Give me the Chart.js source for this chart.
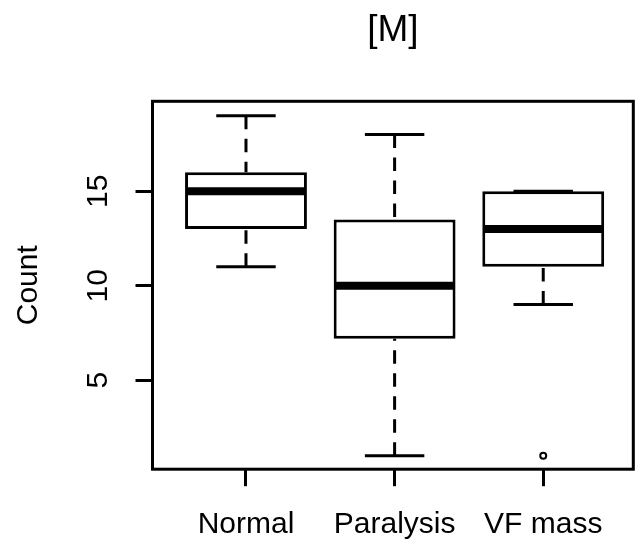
<!DOCTYPE html>
<html>
<head>
<meta charset="utf-8">
<script src="https://cdn.jsdelivr.net/npm/chart.js@4/dist/chart.umd.min.js"></script>
<style>
  html, body { margin: 0; padding: 0; background: #ffffff; }
  #wrap { width: 635px; height: 543px; }
</style>
</head>
<body>
<div id="wrap"><canvas id="c" width="635" height="543"></canvas></div>
<script>
// ---- data ----
const categories = ['Normal', 'Paralysis', 'VF mass'];
const whiskerLow  = [11, 1, 9];
const boxLow      = [13, 7.2, 11];
const medians     = [15, 10, 13];
const boxHigh     = [16, 13.5, 15];
const whiskerHigh = [19, 18, 15];
const outlierGroups = [3];
const outlierValues = [1];
const yTicks = [5, 10, 15];
const titleText = '[M]';
const yTitle = 'Count';

const FONT = "'Liberation Sans', Arial, sans-serif";
const BOX_HALF = 0.4;     // R boxwex 0.8
const CAP_HALF = 0.2;     // staplewex 0.5

const xs = categories.map((_, i) => i + 1);

const boxData = xs.map((x, i) => ({ x: x, y: [boxLow[i], boxHigh[i]] }));
const medianData = xs.map((x, i) => ({ x: x, y: medians[i] }));
const capData = [];
const whiskerData = [];
xs.forEach((x, i) => {
  capData.push({ x: x, y: whiskerHigh[i] });
  capData.push({ x: x, y: whiskerLow[i] });
  whiskerData.push({ x: x, y: whiskerHigh[i] }, { x: x, y: boxHigh[i] }, { x: x, y: null });
  whiskerData.push({ x: x, y: whiskerLow[i] }, { x: x, y: boxLow[i] }, { x: x, y: null });
});
const outlierData = outlierGroups.map((g, i) => ({ x: g, y: outlierValues[i] }));

function unitPx(chart, u) {
  const s = chart.scales.x;
  return Math.abs(s.getPixelForValue(1 + u) - s.getPixelForValue(1));
}

const framePlugin = {
  id: 'frame',
  afterDatasetsDraw(chart) {
    const a = chart.chartArea, ctx = chart.ctx;
    ctx.save();
    ctx.strokeStyle = '#000';
    ctx.lineWidth = 3;
    ctx.strokeRect(a.left, a.top, a.right - a.left, a.bottom - a.top);
    ctx.restore();
  }
};

const yLabelPlugin = {
  id: 'yLabels',
  afterDraw(chart) {
    const s = chart.scales.y, ctx = chart.ctx;
    ctx.save();
    ctx.fillStyle = '#000';
    ctx.font = '30px ' + FONT;
    ctx.textAlign = 'center';
    ctx.textBaseline = 'middle';
    s.ticks.forEach(t => {
      const py = s.getPixelForValue(t.value);
      ctx.save();
      ctx.translate(s.right - 53.5, py);
      ctx.rotate(-Math.PI / 2);
      ctx.fillText(String(t.value), 0, 0);
      ctx.restore();
    });
    ctx.restore();
  }
};

new Chart(document.getElementById('c'), {
  type: 'bar',
  data: {
    datasets: [
      { type: 'line', data: medianData, showLine: false, pointStyle: 'line',
        radius: ctx => unitPx(ctx.chart, BOX_HALF), borderColor: '#000', borderWidth: 8, order: 0 },
      { type: 'line', data: capData, showLine: false, pointStyle: 'line',
        radius: ctx => unitPx(ctx.chart, CAP_HALF), borderColor: '#000', borderWidth: 3, order: 1 },
      { type: 'line', data: outlierData, showLine: false, pointStyle: 'circle', radius: 3,
        borderColor: '#000', backgroundColor: '#fff', borderWidth: 2, order: 1 },
      { type: 'bar', data: boxData, backgroundColor: '#fff', borderColor: '#000', borderWidth: 3,
        borderSkipped: false, barPercentage: 0.82, categoryPercentage: 1, order: 2 },
      { type: 'line', data: whiskerData, spanGaps: false, borderColor: '#000', borderWidth: 3,
        borderDash: [13.5, 9.5], borderCapStyle: 'butt', pointRadius: 0, fill: false, order: 3 }
    ]
  },
  options: {
    responsive: false,
    animation: false,
    events: [],
    layout: { autoPadding: false, padding: { top: 0, right: 1.7, bottom: 0, left: 0 } },
    plugins: {
      legend: { display: false },
      tooltip: { enabled: false },
      title: { display: true, text: titleText, fullSize: false, color: '#000',
        font: { family: FONT, size: 37, weight: 'normal' }, padding: { top: 9, bottom: 47.9 } }
    },
    scales: {
      x: {
        type: 'linear', min: 0.371, max: 3.606, offset: false,
        afterBuildTicks: s => { s.ticks = xs.map(v => ({ value: v })); },
        afterFit: s => { s.height = 73.8; s.paddingLeft = 0; s.paddingRight = 0; },
        border: { display: false },
        grid: { offset: false, drawOnChartArea: false, drawTicks: true, tickLength: 17, tickWidth: 3, tickColor: '#000' },
        ticks: { autoSkip: false, maxRotation: 0, minRotation: 0, padding: 21, color: '#000',
          font: { family: FONT, size: 30 }, callback: v => categories[Math.round(v) - 1] }
      },
      y: {
        type: 'linear', position: 'left', min: 0.29, max: 19.76,
        afterBuildTicks: s => { s.ticks = yTicks.map(v => ({ value: v })); },
        afterFit: s => { s.width = 152.5; s.paddingTop = 0; s.paddingBottom = 0; },
        border: { display: false },
        grid: { drawOnChartArea: false, drawTicks: true, tickLength: 17, tickWidth: 3, tickColor: '#000' },
        ticks: { display: false },
        title: { display: true, text: yTitle, color: '#000', font: { family: FONT, size: 30 }, padding: { top: 11, bottom: 0 } }
      }
    }
  },
  plugins: [framePlugin, yLabelPlugin]
});
</script>
</body>
</html>
